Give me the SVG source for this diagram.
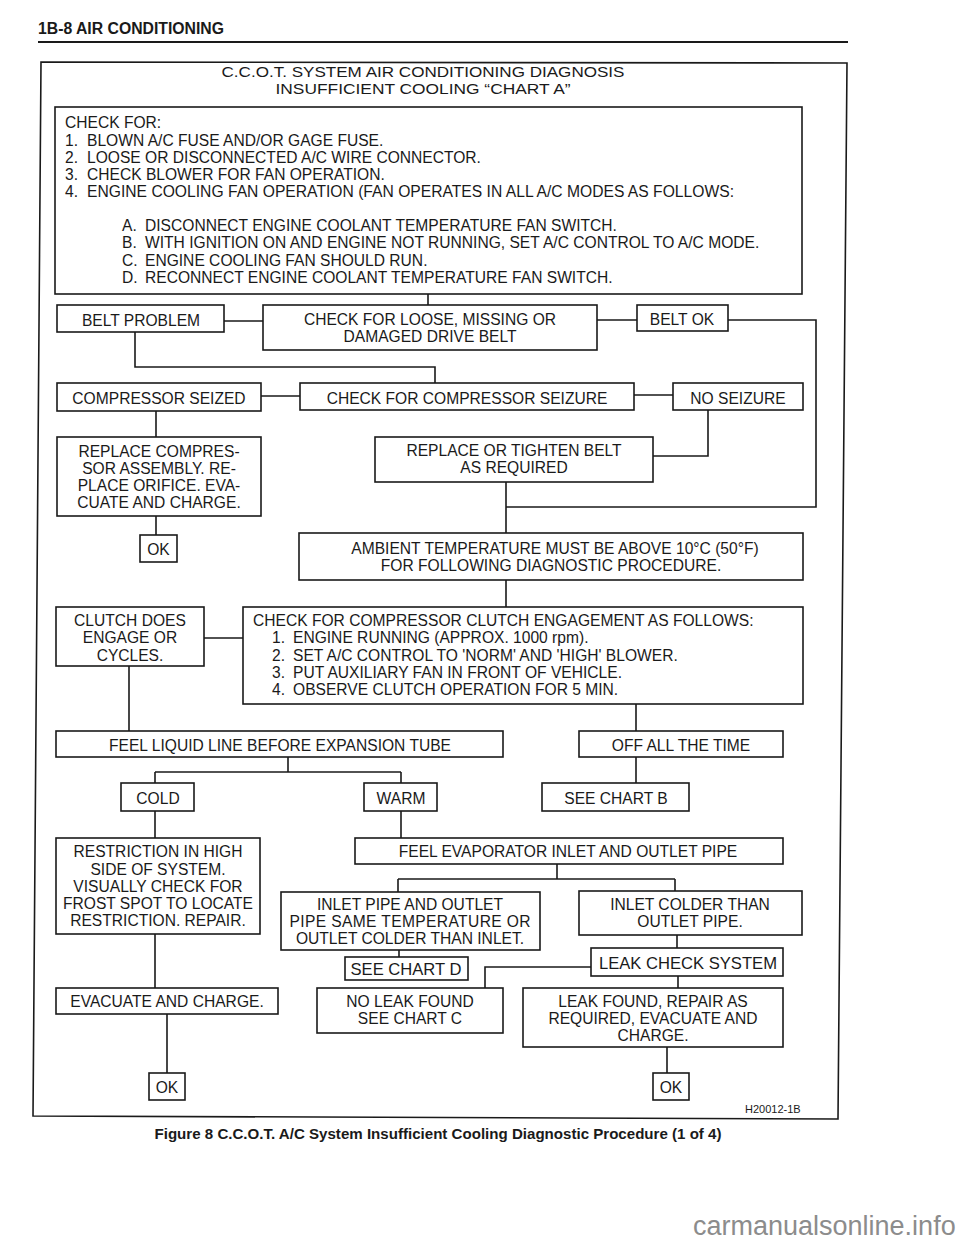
<svg xmlns="http://www.w3.org/2000/svg" width="960" height="1242" viewBox="0 0 960 1242">
<style>
.b{fill:none;stroke:#1a1a1a;stroke-width:1.6}
.t{font-family:"Liberation Sans",Arial,sans-serif;font-size:15.6px;fill:#1a1a1a}
.c{text-anchor:middle}
.L{font-size:16.6px}
.w{fill:none;stroke:#1a1a1a;stroke-width:1.6}
</style>
<rect width="960" height="1242" fill="#fff"/>
<g id="header">
<text class="t" x="38" y="34" style="font-weight:bold;font-size:16px" textLength="186" lengthAdjust="spacingAndGlyphs">1B-8 AIR CONDITIONING</text>
<line x1="38" y1="42" x2="848" y2="42" stroke="#1a1a1a" stroke-width="2"/>
</g>
<g id="frame">
<path class="b" d="M41,62 L847,63 L838,1119 L33,1116 Z"/>
<text class="t c" x="423" y="77" style="font-size:15px" textLength="403" lengthAdjust="spacingAndGlyphs">C.C.O.T. SYSTEM AIR CONDITIONING DIAGNOSIS</text>
<text class="t c" x="423" y="94" style="font-size:15px" textLength="295" lengthAdjust="spacingAndGlyphs">INSUFFICIENT COOLING “CHART A”</text>
<text class="t" x="745" y="1113" style="font-size:11px">H20012-1B</text>
</g>
<g id="n-checkfor">
<rect class="b" x="55" y="107" width="747" height="187"/>
<text class="t" x="65" y="128">CHECK FOR:</text>
<text class="t" x="65" y="145.5">1.</text><text class="t" x="87" y="145.5">BLOWN A/C FUSE AND/OR GAGE FUSE.</text>
<text class="t" x="65" y="162.7">2.</text><text class="t" x="87" y="162.7">LOOSE OR DISCONNECTED A/C WIRE CONNECTOR.</text>
<text class="t" x="65" y="180">3.</text><text class="t" x="87" y="180">CHECK BLOWER FOR FAN OPERATION.</text>
<text class="t" x="65" y="197">4.</text><text class="t" x="87" y="197" textLength="647" lengthAdjust="spacingAndGlyphs">ENGINE COOLING FAN OPERATION (FAN OPERATES IN ALL A/C MODES AS FOLLOWS:</text>
<text class="t" x="122" y="231">A.</text><text class="t" x="145" y="231">DISCONNECT ENGINE COOLANT TEMPERATURE FAN SWITCH.</text>
<text class="t" x="122" y="248">B.</text><text class="t" x="145" y="248">WITH IGNITION ON AND ENGINE NOT RUNNING, SET A/C CONTROL TO A/C MODE.</text>
<text class="t" x="122" y="265.5">C.</text><text class="t" x="145" y="265.5">ENGINE COOLING FAN SHOULD RUN.</text>
<text class="t" x="122" y="283">D.</text><text class="t" x="145" y="283">RECONNECT ENGINE COOLANT TEMPERATURE FAN SWITCH.</text>
</g>
<g id="n-beltproblem"><rect class="b" x="57" y="305" width="167" height="27"/><text class="t c" x="141" y="325.5">BELT PROBLEM</text></g>
<g id="n-checkloose"><rect class="b" x="263" y="305" width="334" height="45"/><text class="t c" x="430" y="325">CHECK FOR LOOSE, MISSING OR</text><text class="t c" x="430" y="342">DAMAGED DRIVE BELT</text></g>
<g id="n-beltok"><rect class="b" x="637" y="305" width="91" height="26"/><text class="t c" x="682" y="325">BELT OK</text></g>
<g id="n-compseized"><rect class="b" x="57" y="383" width="204" height="28"/><text class="t c" x="159" y="404">COMPRESSOR SEIZED</text></g>
<g id="n-checkseizure"><rect class="b" x="300" y="383" width="334" height="27"/><text class="t c" x="467" y="404">CHECK FOR COMPRESSOR SEIZURE</text></g>
<g id="n-noseizure"><rect class="b" x="673" y="383" width="130" height="27"/><text class="t c" x="738" y="404">NO SEIZURE</text></g>
<g id="n-replacecomp"><rect class="b" x="57" y="437" width="204" height="79"/>
<text class="t c" x="159" y="457">REPLACE COMPRES-</text><text class="t c" x="159" y="474">SOR ASSEMBLY. RE-</text><text class="t c" x="159" y="491">PLACE ORIFICE. EVA-</text><text class="t c" x="159" y="508">CUATE AND CHARGE.</text></g>
<g id="n-replacebelt"><rect class="b" x="375" y="437" width="278" height="45"/><text class="t c" x="514" y="456">REPLACE OR TIGHTEN BELT</text><text class="t c" x="514" y="473">AS REQUIRED</text></g>
<g id="n-ok1"><rect class="b" x="140" y="535" width="37" height="27"/><text class="t c" x="158.5" y="555">OK</text></g>
<g id="n-ambient"><rect class="b" x="299" y="533" width="504" height="47"/><text class="t c" x="555" y="554">AMBIENT TEMPERATURE MUST BE ABOVE 10°C (50°F)</text><text class="t c" x="551" y="571">FOR FOLLOWING DIAGNOSTIC PROCEDURE.</text></g>
<g id="n-checkclutch"><rect class="b" x="243" y="607" width="560" height="97"/>
<text class="t" x="253" y="626">CHECK FOR COMPRESSOR CLUTCH ENGAGEMENT AS FOLLOWS:</text>
<text class="t" x="272" y="643">1.</text><text class="t" x="293" y="643">ENGINE RUNNING (APPROX. 1000 rpm).</text>
<text class="t" x="272" y="660.5">2.</text><text class="t" x="293" y="660.5">SET A/C CONTROL TO 'NORM' AND 'HIGH' BLOWER.</text>
<text class="t" x="272" y="677.5">3.</text><text class="t" x="293" y="677.5">PUT AUXILIARY FAN IN FRONT OF VEHICLE.</text>
<text class="t" x="272" y="695">4.</text><text class="t" x="293" y="695">OBSERVE CLUTCH OPERATION FOR 5 MIN.</text></g>
<g id="n-clutchdoes"><rect class="b" x="56" y="607" width="148" height="59"/><text class="t c" x="130" y="626">CLUTCH DOES</text><text class="t c" x="130" y="643">ENGAGE OR</text><text class="t c" x="130" y="661">CYCLES.</text></g>
<g id="n-feelliquid"><rect class="b" x="56" y="731" width="447" height="26"/><text class="t c" x="280" y="751">FEEL LIQUID LINE BEFORE EXPANSION TUBE</text></g>
<g id="n-offall"><rect class="b" x="579" y="731" width="204" height="26"/><text class="t c" x="681" y="751">OFF ALL THE TIME</text></g>
<g id="n-cold"><rect class="b" x="121" y="783" width="73" height="28"/><text class="t c" x="158" y="804">COLD</text></g>
<g id="n-warm"><rect class="b" x="364" y="783" width="73" height="28"/><text class="t c" x="401" y="804">WARM</text></g>
<g id="n-chartb"><rect class="b" x="542" y="783" width="147" height="28"/><text class="t c" x="616" y="804">SEE CHART B</text></g>
<g id="n-restriction"><rect class="b" x="56" y="838" width="204" height="96"/>
<text class="t c" x="158" y="857">RESTRICTION IN HIGH</text><text class="t c" x="158" y="874.5">SIDE OF SYSTEM.</text><text class="t c" x="158" y="892">VISUALLY CHECK FOR</text><text class="t c" x="158" y="909">FROST SPOT TO LOCATE</text><text class="t c" x="158" y="926">RESTRICTION. REPAIR.</text></g>
<g id="n-feelevap"><rect class="b" x="355" y="838" width="428" height="26"/><text class="t c" x="568" y="857">FEEL EVAPORATOR INLET AND OUTLET PIPE</text></g>
<g id="n-inletpipe"><rect class="b" x="281" y="892" width="259" height="58"/>
<text class="t c" x="410" y="910">INLET PIPE AND OUTLET</text><text class="t c" x="410" y="927" textLength="241" lengthAdjust="spacing">PIPE SAME TEMPERATURE OR</text><text class="t c" x="410" y="944">OUTLET COLDER THAN INLET.</text></g>
<g id="n-inletcolder"><rect class="b" x="579" y="891" width="223" height="44"/><text class="t c" x="690" y="910">INLET COLDER THAN</text><text class="t c" x="690" y="927">OUTLET PIPE.</text></g>
<g id="n-chartd"><rect class="b" x="345" y="957" width="123" height="23"/><text class="t c L" x="406" y="975">SEE CHART D</text></g>
<g id="n-leakcheck"><rect class="b" x="591" y="948" width="192" height="28"/><text class="t c L" x="688" y="969">LEAK CHECK SYSTEM</text></g>
<g id="n-evacuate"><rect class="b" x="56" y="988" width="222" height="26"/><text class="t c" x="167" y="1007">EVACUATE AND CHARGE.</text></g>
<g id="n-noleak"><rect class="b" x="317" y="988" width="186" height="45"/><text class="t c" x="410" y="1007">NO LEAK FOUND</text><text class="t c" x="410" y="1024">SEE CHART C</text></g>
<g id="n-leakfound"><rect class="b" x="523" y="988" width="260" height="59"/><text class="t c" x="653" y="1007">LEAK FOUND, REPAIR AS</text><text class="t c" x="653" y="1024">REQUIRED, EVACUATE AND</text><text class="t c" x="653" y="1041">CHARGE.</text></g>
<g id="n-ok2"><rect class="b" x="149" y="1073" width="36" height="27"/><text class="t c" x="167" y="1093">OK</text></g>
<g id="n-ok3"><rect class="b" x="653" y="1073" width="36" height="27"/><text class="t c" x="671" y="1093">OK</text></g>
<g id="connectors">
<path class="w" d="M428,294 V305 M224,321 H263 M597,320 H637 M728,320 H816 V507 H506 M135,332 V367 H435 V383 M261,396 H300 M634,395 H673 M708,410 V456 H653 M506,482 V533 M156,411 V437 M156,516 V535 M506,580 V607 M204,638 H243 M129,666 V731 M636,704 V731 M288,757 V772 M155,772 H401 M155,772 V783 M401,772 V783 M155,811 V838 M401,811 V838 M636,757 V783 M155,934 V988 M167,1014 V1073 M557,864 V879 M398,879 H675 M398,879 V892 M675,879 V891 M399,950 V957 M677,935 V948 M591,967 H485 V988 M678,976 V988 M667,1047 V1073"/>
</g>
<g id="caption">
<text class="t c" x="438" y="1139" style="font-size:15px;font-weight:bold" textLength="567" lengthAdjust="spacingAndGlyphs">Figure 8 C.C.O.T. A/C System Insufficient Cooling Diagnostic Procedure (1 of 4)</text>
<text x="693" y="1235" style="font-family:'Liberation Sans',Arial,sans-serif;font-size:27px;fill:#8c8c8c">carmanualsonline.info</text>
</g>
</svg>
